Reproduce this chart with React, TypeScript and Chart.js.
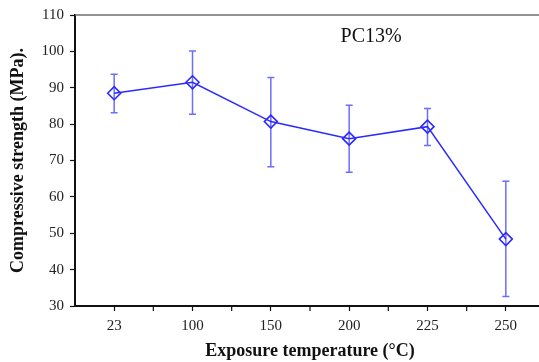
import React, { useEffect, useRef } from "react";
import { Chart, registerables } from "chart.js";

Chart.register(...registerables);

const categories = ["23", "100", "150", "200", "225", "250"];
const strength = [88.5, 91.5, 80.7, 76.0, 79.3, 48.4];
const errLow = [83.1, 82.7, 68.3, 66.8, 74.1, 32.6];
const errHigh = [93.7, 100.1, 92.8, 85.2, 84.3, 64.3];
const yTicks = { min: 30, max: 110, step: 10 };
const seriesLabel = "PC13%";
const xTitle = "Exposure temperature (°C)";
const yTitle = "Compressive strength (MPa).";

const FONT = "'Liberation Serif', 'Times New Roman', serif";

const extras = {
  id: "extras",
  beforeDatasetsDraw(chart: any) {
    const { ctx, scales, chartArea } = chart;
    const x = scales.x;
    const y = scales.y;
    ctx.save();
    // top border
    ctx.strokeStyle = "#6e6e6e";
    ctx.lineWidth = 1.5;
    ctx.beginPath();
    ctx.moveTo(chartArea.left, chartArea.top);
    ctx.lineTo(chartArea.right + 20, chartArea.top);
    ctx.stroke();
    // error bars
    ctx.strokeStyle = "rgba(60,60,255,0.75)";
    ctx.lineWidth = 1.5;
    categories.forEach((_, i) => {
      const px = x.getPixelForValue(i);
      const yl = y.getPixelForValue(errLow[i]);
      const yh = y.getPixelForValue(errHigh[i]);
      ctx.beginPath();
      ctx.moveTo(px, yl);
      ctx.lineTo(px, yh);
      ctx.moveTo(px - 3.5, yl);
      ctx.lineTo(px + 3.5, yl);
      ctx.moveTo(px - 3.5, yh);
      ctx.lineTo(px + 3.5, yh);
      ctx.stroke();
    });
    // boundary ticks on x axis
    ctx.strokeStyle = "#111";
    ctx.lineWidth = 1.2;
    for (let i = 0; i < categories.length - 1; i++) {
      const bx = (x.getPixelForValue(i) + x.getPixelForValue(i + 1)) / 2;
      ctx.beginPath();
      ctx.moveTo(bx, chartArea.bottom);
      ctx.lineTo(bx, chartArea.bottom + 5);
      ctx.stroke();
    }
    // label
    ctx.fillStyle = "#111";
    ctx.font = `20px ${FONT}`;
    ctx.textAlign = "left";
    ctx.textBaseline = "middle";
    const lx = chartArea.left + (chartArea.right - chartArea.left) * 0.565;
    const ly = chartArea.top + (chartArea.bottom - chartArea.top) * 0.075;
    ctx.fillText(seriesLabel, lx, ly);
    ctx.restore();
  },
};

export default function App() {
  const ref = useRef<HTMLCanvasElement | null>(null);
  useEffect(() => {
    if (!ref.current) return;
    const chart = new Chart(ref.current, {
      type: "line",
      data: {
        labels: categories,
        datasets: [
          {
            label: seriesLabel,
            data: strength,
            borderColor: "#2a2aff",
            borderWidth: 1.5,
            pointStyle: "rectRot",
            pointRadius: 6.5,
            pointBorderWidth: 1.6,
            pointBorderColor: "#2a2aff",
            pointBackgroundColor: "rgba(255,255,255,0)",
            tension: 0,
          },
        ],
      },
      options: {
        responsive: false,
        animation: false,
        layout: { padding: { top: 15, right: 15, left: 0, bottom: 0 } },
        plugins: { legend: { display: false }, tooltip: { enabled: false } },
        scales: {
          x: {
            type: "category",
            offset: true,
            afterFit: (s: any) => {
              s.height = 56;
            },
            border: { color: "#111", width: 2 },
            grid: {
              display: true,
              drawOnChartArea: false,
              drawTicks: true,
              tickLength: 5,
              tickWidth: 1.2,
              tickColor: "#111",
              offset: false,
            },
            ticks: {
              color: "#222",
              font: { family: FONT, size: 15 },
              padding: 6,
              maxRotation: 0,
            },
            title: {
              display: true,
              text: xTitle,
              color: "#111",
              font: { family: FONT, size: 18, weight: "bold" },
              padding: { top: 0, bottom: 0 },
            },
          },
          y: {
            min: yTicks.min,
            max: yTicks.max,
            afterFit: (s: any) => {
              s.width = 75;
            },
            border: { color: "#111", width: 2 },
            grid: {
              display: true,
              drawOnChartArea: false,
              drawTicks: true,
              tickLength: 5,
              tickWidth: 1.2,
              tickColor: "#111",
            },
            ticks: {
              stepSize: yTicks.step,
              color: "#222",
              font: { family: FONT, size: 15 },
              padding: 6,
            },
            title: {
              display: true,
              text: yTitle,
              color: "#111",
              font: { family: FONT, size: 18, weight: "bold" },
              padding: { top: 8, bottom: 0 },
            },
          },
        },
      },
      plugins: [extras],
    });
    return () => chart.destroy();
  }, []);
  return (
    <div
      style={{
        position: "fixed",
        left: 0,
        top: 0,
        width: 539,
        height: 362,
        overflow: "hidden",
        background: "#fff",
      }}
    >
      <canvas ref={ref} width={560} height={362} style={{ display: "block" }} />
    </div>
  );
}
